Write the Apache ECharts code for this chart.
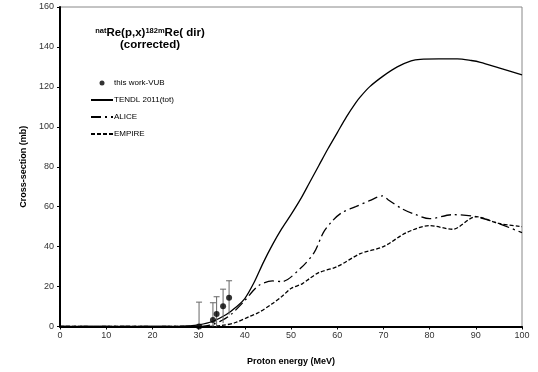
<!DOCTYPE html>
<html>
<head>
<meta charset="utf-8">
<script src="https://cdn.jsdelivr.net/npm/echarts@6/dist/echarts.min.js"></script>
<style>html,body{margin:0;padding:0;background:#fff;}#c{width:538px;height:372px;}</style>
</head>
<body>
<div id="c"></div>
<script>
var xTicks = [0,10,20,30,40,50,60,70,80,90,100];
var yTicks = [0,20,40,60,80,100,120,140,160];

var expE = [30.1, 33.1, 33.9, 35.3, 36.6];
var expY = [0.0, 3.2, 6.2, 10.2, 14.4];
var expErr = [12.2, 8.7, 8.7, 8.5, 8.5];

var tendlE = [0,10,20,25,28,30,33,36,38,40,42,44,46,48,50,52,54,56,58,60,62,64,65,67,70,73,76,78,82,86,89,91,95,100];
var tendlY = [0,0,0,0.1,0.3,0.8,2.5,6,9.5,14,22,32,41,49,56,63.5,72,80.5,89,97,105,112,115,120,125.5,130,133,133.8,134,134,133.2,132.3,129.5,126];

var aliceE = [0,20,30,33,35,37,40,43,46,48,52,55,57,59,61,64,67,69.8,71,74,77,80,85,90,95,100];
var aliceY = [0,0,0,1,3,6,13,20.5,22.8,22.5,29,37,47,53,57,60,63,65.4,63.5,59,56,54,56,55,51.5,47];

var empireE = [0,20,30,35,38,41,43,46,48,50,52.5,54,56,60,65,70,75,80,85,90,95,100];
var empireY = [0,0,0,0.5,2,5,7,11.5,15,19,21.5,24,27,30,36.5,40,47,50.5,48.7,55,51.6,50];

function pairs(a,b){return a.map(function(v,i){return [v,b[i]];});}

var chart = echarts.init(document.getElementById('c'));
var font = 'Liberation Sans, Arial, sans-serif';
var noDot = {color:'rgba(0,0,0,0)', borderWidth:0, borderColor:'rgba(0,0,0,0)'};
chart.setOption({
  animation:false,
  backgroundColor:'#fff',
  textStyle:{fontFamily:font},
  title:{
    left:145, top:22, textAlign:'center',
    text:'{sup|nat}{b|Re(p,x)}{sup|182m}{b|Re( dir)}\n{b|(corrected)}',
    textStyle:{
      fontFamily:font,
      rich:{
        b:{fontSize:11.5, fontWeight:'bold', color:'#000', lineHeight:12, fontFamily:font},
        sup:{fontSize:7.5, fontWeight:'bold', color:'#000', verticalAlign:'top', lineHeight:12, fontFamily:font}
      }
    }
  },
  legend:{
    orient:'vertical', left:85, top:74, itemWidth:22, itemHeight:5, itemGap:9,
    textStyle:{fontSize:8, color:'#000', fontFamily:font, padding:[0,0,0,-4]},
    data:[
      {name:'this work-VUB', icon:'circle'},
      {name:'TENDL 2011(tot)', itemStyle:noDot},
      {name:'ALICE', itemStyle:noDot},
      {name:'EMPIRE', itemStyle:noDot}
    ]
  },
  grid:{left:60, right:16, top:7, bottom:45.5, show:true, borderColor:'#888', borderWidth:1},
  xAxis:{
    type:'value', min:0, max:100, interval:10,
    name:'Proton energy (MeV)', nameLocation:'middle', nameGap:31,
    nameTextStyle:{fontSize:9, fontWeight:'bold', color:'#000', fontFamily:font},
    axisLine:{show:true, onZero:false, lineStyle:{color:'#000', width:2}},
    axisTick:{show:true, length:3, lineStyle:{color:'#000'}},
    axisLabel:{fontSize:9, color:'#333', margin:5, fontFamily:font,
      formatter:function(v){return xTicks.indexOf(v)>=0?String(v):'';}},
    splitLine:{show:false}
  },
  yAxis:{
    type:'value', min:0, max:160, interval:20,
    name:'Cross-section (mb)', nameLocation:'middle', nameGap:32,
    nameTextStyle:{fontSize:9, fontWeight:'bold', color:'#000', fontFamily:font},
    axisLine:{show:true, onZero:false, lineStyle:{color:'#000', width:2}},
    axisTick:{show:true, length:3, lineStyle:{color:'#000'}},
    axisLabel:{fontSize:9, color:'#333', margin:6, fontFamily:font,
      formatter:function(v){return yTicks.indexOf(v)>=0?String(v):'';}},
    splitLine:{show:false}
  },
  series:[
    {
      name:'this work-VUB', type:'scatter', data:pairs(expE,expY), symbolSize:6,
      itemStyle:{color:'#000'}, z:5
    },
    {
      name:'errbars', type:'custom', z:4,
      data:expE.map(function(e,i){return [e, expY[i], expErr[i]];}),
      renderItem:function(params, api){
        var x = api.value(0), y = api.value(1), err = api.value(2);
        var lo = Math.max(0, y-err), hi = y+err;
        var pT = api.coord([x, hi]), pB = api.coord([x, lo]);
        return {type:'group', children:[
          {type:'line', shape:{x1:pT[0], y1:pT[1], x2:pB[0], y2:pB[1]}, style:{stroke:'#666', lineWidth:1}},
          {type:'line', shape:{x1:pT[0]-3, y1:pT[1], x2:pT[0]+3, y2:pT[1]}, style:{stroke:'#666', lineWidth:1}}
        ]};
      }
    },
    {
      name:'TENDL 2011(tot)', type:'line', data:pairs(tendlE,tendlY), showSymbol:false, symbol:'none',
      smooth:0.3, lineStyle:{color:'#000', width:1.3}, itemStyle:{color:'#000'}
    },
    {
      name:'ALICE', type:'line', data:pairs(aliceE,aliceY), showSymbol:false, symbol:'none',
      smooth:0.3, lineStyle:{color:'#000', width:1.3, type:[10,4,2,4]}, itemStyle:{color:'#000'}
    },
    {
      name:'EMPIRE', type:'line', data:pairs(empireE,empireY), showSymbol:false, symbol:'none',
      smooth:0.3, lineStyle:{color:'#000', width:1.3, type:[4,2]}, itemStyle:{color:'#000'}
    }
  ]
});
</script>
</body>
</html>
